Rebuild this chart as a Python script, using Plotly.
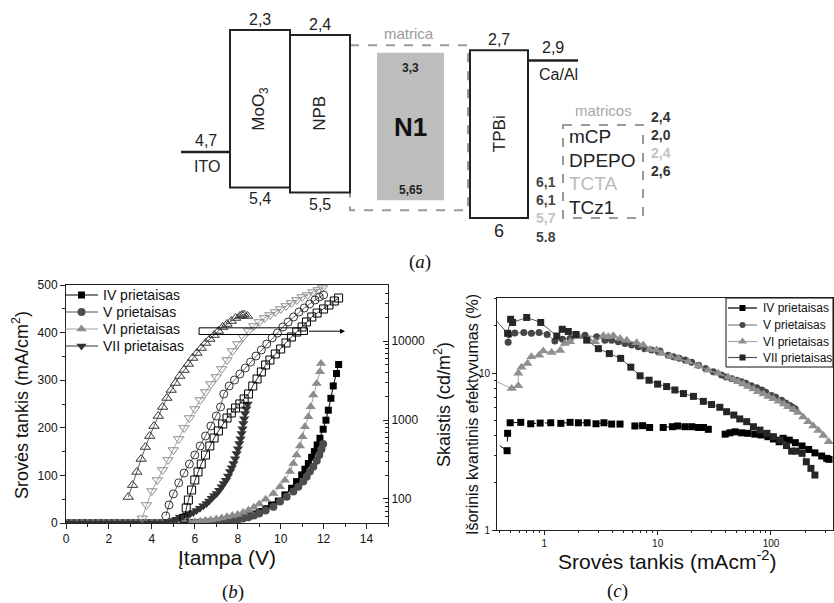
import plotly.graph_objects as go

W, H = 834, 603
FONT = "Liberation Sans, Arial, Helvetica, sans-serif"

# ---------------- panel (a): energy levels (eV) ----------------
A_LAYERS = ["MoO<sub>3</sub>", "NPB", "TPBi"]
A_LUMO = [2.3, 2.4, 2.7]
A_HOMO = [5.4, 5.5, 6.0]
A_LUMO_TXT = ["2,3", "2,4", "2,7"]
A_HOMO_TXT = ["5,4", "5,5", "6"]
ITO_LEVEL = 4.7
CAAL_LEVEL = 2.9
N1_LUMO_TXT, N1_HOMO = "3,3", 5.65
N1_DRAWN_TOP = 2.75
MATRICA_BOX = (2.6, 5.85)
MATRICOS_BOX = (4.17, 6.0)
HOST_NAMES = ["mCP", "DPEPO", "TCTA", "TCz1"]
HOST_LUMO_TXT = ["2,4", "2,0", "2,4", "2,6"]
HOST_HOMO_TXT = ["6,1", "6,1", "5,7", "5.8"]
HOST_LIGHT = [False, False, True, False]

# ---------------- panel (b): J-V (left) and L-V (right) ----------------
BASE_V = [0.0, 0.25, 0.5, 0.75, 1.0, 1.25, 1.5, 1.75, 2.0, 2.25, 2.5, 2.75,
          3.0, 3.25, 3.5, 3.75, 4.0, 4.25, 4.5]
BASE_J = [0, 0, 0, 0, 0, 0, 0, 0, 0, 0, 0, 0, 0, 0, 0, 0, 0, 0, 0]

IV_V = [4.75, 5.0, 5.25, 5.5, 5.75, 6.0, 6.25, 6.5, 6.75, 7.0, 7.25, 7.5, 7.75, 8.0,
        8.25, 8.5, 8.75, 9.0, 9.3, 9.58, 9.89, 10.2, 10.51, 10.74, 10.98, 11.13, 11.29,
        11.44, 11.57, 11.7, 11.83, 11.98, 12.11, 12.22, 12.34, 12.45, 12.6, 12.7]
IV_J = [0, 0, 0.2, 0.3, 0.5, 0.7, 1.0, 1.5, 2.2, 3, 4, 5, 7, 9, 12, 15, 19, 24, 30, 38,
        46, 59, 73, 87, 101, 113, 125, 138, 150, 164, 178, 197, 216, 237, 262, 288, 314, 333]

V_V = [4.75, 5.0, 5.25, 5.5, 5.75, 6.0, 6.25, 6.5, 6.75, 7.0, 7.25, 7.5, 7.75, 8.0, 8.25,
       8.5, 8.75, 9.0, 9.3, 9.66, 9.97, 10.28, 10.59, 10.82, 11.05, 11.21, 11.36, 11.52,
       11.68, 11.8, 11.9, 11.98]
V_J = [0, 0, 0, 0.2, 0.2, 0.3, 0.5, 1.0, 1.5, 2, 3, 4, 5.5, 7, 9.5, 12, 16, 20, 26, 34,
       45, 55, 66, 76, 87, 97, 108, 118, 131, 143, 155, 166]

VI_V = [4.75, 5.0, 5.25, 5.5, 5.75, 6.0, 6.25, 6.5, 6.75, 7.0, 7.25, 7.5, 7.75, 8.0, 8.25,
        8.5, 8.75, 9.0, 9.3, 9.66, 9.97, 10.2, 10.43, 10.59, 10.74, 10.9, 11.02, 11.13,
        11.29, 11.4, 11.52, 11.68, 11.83, 11.88]
VI_J = [0.3, 0.5, 0.8, 1.2, 1.7, 2.5, 3.5, 5, 6.5, 8.5, 10.5, 13, 15.5, 18, 22, 27, 33, 40,
        50, 62, 76, 90, 108, 125, 143, 162, 181, 202, 223, 244, 269, 293, 318, 335]

VII_V = [4.75, 5.0, 5.15, 5.31, 5.47, 5.62, 5.78, 5.93, 6.08, 6.24, 6.4, 6.55, 6.67, 6.79,
         6.9, 7.02, 7.14, 7.25, 7.35, 7.45, 7.55, 7.64, 7.72, 7.8, 7.88, 7.95, 8.01, 8.07,
         8.13, 8.18, 8.22, 8.26, 8.3, 8.34, 8.4, 8.46]
VII_J = [2, 5, 8, 12, 14, 17, 19, 22, 26, 31, 36, 41, 46, 52, 57, 62, 69, 76, 83, 90, 99,
         108, 116, 125, 135, 146, 156, 167, 177, 188, 198, 209, 219, 230, 240, 250]

# luminance (cd/m2), open symbols
LUM_UP_V = [2.9, 3.1, 3.3, 3.5, 3.7, 3.9, 4.1, 4.3, 4.5, 4.7, 4.9, 5.1, 5.3, 5.5, 5.7, 5.9,
            6.1, 6.3, 6.5, 6.7, 6.9, 7.1, 7.3, 7.5, 7.7, 7.9, 8.1, 8.2, 8.3, 8.45]
LUM_UP_L = [106, 150, 220, 321, 455, 627, 839, 1124, 1462, 1898, 2398, 2940, 3605, 4296,
            5118, 6098, 7047, 8150, 9437, 10600, 11900, 13390, 15040, 16420, 17920, 19560,
            20720, 21330, 21600, 20720]
LUM_DN_V = [3.55, 3.75, 4.0, 4.25, 4.5, 4.75, 5.0, 5.25, 5.5, 5.75, 6.0, 6.25, 6.5, 6.75,
            7.0, 7.25, 7.5, 7.75, 8.0, 8.25, 8.5, 8.75, 9.0, 9.25, 9.5, 9.75, 10.0, 10.25,
            10.5, 10.75, 11.0, 11.25, 11.5, 11.75, 11.95]
LUM_DN_L = [57, 84, 126, 174, 233, 312, 417, 575, 792, 1060, 1377, 1790, 2261, 2855, 3500,
            4424, 5745, 7467, 9155, 11240, 13390, 15490, 17410, 19560, 21330, 23280, 25410,
            27740, 30280, 33050, 36070, 38210, 41700, 44220, 46880]
LUM_CI_V = [4.65, 4.8, 5.0, 5.25, 5.5, 5.75, 6.0, 6.25, 6.5, 6.75, 7.0, 7.2, 7.35, 7.6, 7.85,
            8.1, 8.35, 8.6, 8.85, 9.1, 9.35, 9.6, 9.85, 10.1, 10.35, 10.6, 10.85, 11.1,
            11.35, 11.6, 11.8, 12.0]
LUM_CI_L = [61, 84, 116, 160, 213, 277, 360, 469, 627, 839, 1124, 1462, 2134, 2692, 3208,
            3822, 4550, 5420, 6457, 7690, 9155, 10920, 12620, 15040, 17410, 20140, 23280,
            26170, 29400, 33050, 36070, 38210]
LUM_SQ_V = [5.5, 5.6, 5.7, 5.85, 6.0, 6.15, 6.3, 6.5, 6.7, 6.9, 7.1, 7.3, 7.5, 7.7, 7.9, 8.1,
            8.3, 8.5, 8.7, 8.9, 9.1, 9.3, 9.5, 9.75, 10.0, 10.25, 10.5, 10.75, 11.0, 11.2,
            11.45, 11.7, 12.0, 12.25, 12.5, 12.7]
LUM_SQ_L = [57, 77, 97, 130, 174, 220, 277, 360, 469, 592, 726, 890, 1060, 1227, 1419, 1595,
            1845, 2134, 2692, 3305, 4055, 4970, 5745, 6845, 7920, 9437, 11240, 13000, 15040,
            17410, 20140, 22590, 25410, 28570, 32090, 35010]
LUM_TICKS = [100, 1000, 10000]
ARROW_BOX_V = (6.2, 11.25)
ARROW_BOX_J = (396, 410)
ARROW_END_V = 13.0

# ---------------- panel (c): EQE vs current density ----------------
IVC_J = [0.3, 0.47, 0.475, 0.5, 0.62, 0.76, 0.92, 1.14, 1.4, 1.69, 2.0, 2.39, 2.86, 3.36,
         3.93, 4.66, None, 6.3, 7.37, 8.5, None, 11.2, 13.5, 15.0, 17.4, 20.0, 22.9, 25.4,
         28.0, None, 39.4, 43.4, 48.2, 55.0, 62.5, 72.0, 82.0, 94.0, 105.0, 118.0, 128.0,
         145.0, 164.0, 188.0, 215.0, 244.0, 280.0, 310.0, 325.0]
IVC_E = [4.0, 3.2, 4.13, 4.82, 4.85, 4.75, 4.8, 4.82, 4.78, 4.85, 4.82, 4.82, 4.75, 4.82,
         4.73, 4.73, None, 4.6, 4.62, 4.5, None, 4.5, 4.55, 4.6, 4.55, 4.55, 4.5, 4.5, 4.38,
         None, 4.08, 4.16, 4.22, 4.16, 4.13, 4.08, 4.03, 3.93, 3.8, 3.65, 3.84, 3.74, 3.6,
         3.43, 3.26, 3.1, 2.96, 2.86, 2.82]
VC_J = [0.48, 0.49, 0.55, 0.66, 0.77, 0.90, 1.06, 1.24, 1.45, 1.69, 1.93, 2.29, 2.9, 3.43,
        3.93, 4.5, 5.15, 5.9, 6.75, 7.7, 8.85, 10.1, 10.5, 12.4, 13.8, 15.5, 17.5, 20.0,
        23.0, 26.5, 31.0, 36.6, 40.0, 45.0, 50.0, 55.0, 60.0, 67.0, 75.0, 83.0, 90.0,
        101.0, 110.0, 124.0, 135.0, 147.0, 155.0, 164.0]
VC_E = [15.7, 17.6, 18.0, 18.1, 17.9, 18.1, 17.6, 16.0, 16.4, 16.6, 17.6, 17.4, 17.0, 16.2,
        16.2, 15.8, 15.4, 15.1, 14.7, 14.3, 14.0, 13.7, 13.8, 13.0, 12.7, 12.4, 12.1, 11.7,
        11.2, 10.7, 10.2, 9.7, 9.45, 9.2, 9.0, 8.8, 8.6, 8.3, 8.05, 7.8, 7.55, 7.2, 7.0,
        6.7, 6.45, 6.2, 6.05, 5.9]
VIC_J = [0.3, 0.516, 0.59, 0.59, 0.63, 0.71, 0.77, 0.90, 0.98, 1.16, 1.38, 1.52, 1.69, 2.0,
         2.45, 2.8, 3.32, 3.67, 4.06, 4.66, 5.34, 6.53, 7.45, 8.53, 9.79, 10.8, 13.0, 15.2,
         18.7, 22.9, 28.0, 34.2, 42.0, 47.0, 51.5, 57.0, 63.0, 70.0, 77.0, 86.0, 95.0,
         105.0, 117.0, 130.0, 142.0, 158.0, 174.0, 192.0, 213.0, 236.0, 262.0, 290.0, 323.0]
VIC_E = [9.5, 7.98, 8.3, 9.96, 10.9, 11.5, 12.7, 13.0, 13.8, 13.5, 13.9, 15.4, 15.8, 17.0,
         16.4, 15.8, 17.3, 17.0, 17.3, 16.6, 16.2, 15.6, 15.1, 14.1, 14.0, 13.3, 12.8, 12.4,
         11.8, 11.1, 10.4, 9.96, 9.4, 9.1, 8.8, 8.5, 8.2, 7.9, 7.6, 7.35, 7.1, 6.85, 6.6,
         6.35, 6.1, 5.85, 5.6, 5.25, 4.9, 4.6, 4.3, 4.0, 3.65]
VIIC_J = [0.3, 0.475, 0.505, 0.526, 0.70, 0.93, 1.29, 1.44, 1.63, 1.9, 2.37, 3.0, 3.75,
          4.72, 5.8, 7.0, 8.4, 10.0, 12.0, 14.2, 16.9, 20.7, 25.3, 29.9, 35.4, 40.6, 47.0,
          53.0, 61.0, 70.0, 80.0, 92.0, 105.0, 120.0, 137.0, 152.0, 166.0, 188.0, 205.0,
          225.0, 244.0]
VIIC_E = [26.0, 17.9, 22.0, 21.0, 22.6, 21.0, 17.2, 19.0, 18.4, 17.6, 16.2, 14.3, 13.3,
          12.4, 10.9, 9.6, 9.0, 8.5, 8.2, 7.8, 7.4, 7.1, 6.6, 6.3, 6.05, 5.67, 5.4, 5.1,
          4.9, 4.55, 4.33, 4.13, 3.93, 3.74, 3.45, 3.18, 3.18, 3.08, 2.72, 2.47, 2.24]

SERIES_NAMES = ["IV prietaisas", "V prietaisas", "VI prietaisas", "VII prietaisas"]


def px(x):
    return x / W


def py(y):
    return 1 - y / H


fig = go.Figure()

# ---------- panel (b) traces ----------
b_specs = [
    (SERIES_NAMES[0], BASE_V + IV_V, BASE_J + IV_J, "square", "#000000", "#000000", 7),
    (SERIES_NAMES[1], BASE_V + V_V, BASE_J + V_J, "circle", "#4d4d4d", "#555555", 8),
    (SERIES_NAMES[2], BASE_V + VI_V, BASE_J + VI_J, "triangle-up", "#8c8c8c", "#a0a0a0", 9),
    (SERIES_NAMES[3], BASE_V + VII_V, BASE_J + VII_J, "triangle-down", "#333333", "#333333", 9),
]
for name, xv, yv, sym, mcol, lcol, size in b_specs:
    fig.add_trace(go.Scatter(
        x=xv, y=yv, name=name, mode="lines+markers", xaxis="x", yaxis="y",
        line=dict(color=lcol, width=1), showlegend=False,
        marker=dict(symbol=sym, size=size, color=mcol, line=dict(width=0)),
        hoverinfo="skip"))

lum_specs = [
    (LUM_UP_V, LUM_UP_L, "triangle-up-open", "#333333", 9),
    (LUM_DN_V, LUM_DN_L, "triangle-down-open", "#8c8c8c", 9),
    (LUM_CI_V, LUM_CI_L, "circle-open", "#333333", 8),
    (LUM_SQ_V, LUM_SQ_L, "square-open", "#000000", 8),
]
for xv, yv, sym, col, size in lum_specs:
    fig.add_trace(go.Scatter(
        x=xv, y=yv, mode="lines+markers", xaxis="x", yaxis="y2", showlegend=False,
        line=dict(color=col, width=0.8),
        marker=dict(symbol=sym, size=size, color=col, line=dict(width=1, color=col)),
        hoverinfo="skip"))

# ---------- panel (c) traces ----------
c_specs = [
    (SERIES_NAMES[0], IVC_J, IVC_E, "square", "#000000", "#000000", "dash", 7),
    (SERIES_NAMES[1], VC_J, VC_E, "circle", "#474747", "#808080", "solid", 7),
    (SERIES_NAMES[2], VIC_J, VIC_E, "triangle-up", "#8f8f8f", "#a8a8a8", "solid", 9),
    (SERIES_NAMES[3], VIIC_J, VIIC_E, "square", "#262626", "#555555", "solid", 7),
]
for name, xv, yv, sym, mcol, lcol, dash, size in c_specs:
    fig.add_trace(go.Scatter(
        x=xv, y=yv, name=name, mode="lines+markers", xaxis="x2", yaxis="y3",
        connectgaps=False, line=dict(color=lcol, width=1, dash=dash), showlegend=False,
        marker=dict(symbol=sym, size=size, color=mcol, line=dict(width=0)),
        hoverinfo="skip"))

# ---------- panel (a) ----------
X_ITO = (181, 230)
X_BOX = [(230, 290), (290, 350), (470, 528)]
X_MATRICA = (350, 468)
X_N1 = (377, 444)
X_CAAL = (528, 578)
X_MATRICOS = (563, 643)

fig.add_trace(go.Scatter(x=list(X_ITO), y=[ITO_LEVEL, ITO_LEVEL], mode="lines",
                         xaxis="x3", yaxis="y4", showlegend=False, hoverinfo="skip",
                         line=dict(color="#222222", width=2.5)))
fig.add_trace(go.Scatter(x=list(X_CAAL), y=[CAAL_LEVEL, CAAL_LEVEL], mode="lines",
                         xaxis="x3", yaxis="y4", showlegend=False, hoverinfo="skip",
                         line=dict(color="#222222", width=2.5)))

shapes = []
shapes.append(dict(type="rect", xref="x3", yref="y4", x0=X_MATRICA[0], x1=X_MATRICA[1],
                   y0=MATRICA_BOX[0], y1=MATRICA_BOX[1],
                   line=dict(color="#9a9a9a", width=2, dash="dash"), layer="below"))
shapes.append(dict(type="rect", xref="x3", yref="y4", x0=X_N1[0], x1=X_N1[1],
                   y0=N1_DRAWN_TOP, y1=N1_HOMO, fillcolor="#bdbdbd",
                   line=dict(width=0), layer="below"))
for (x0, x1), lu, ho in zip(X_BOX, A_LUMO, A_HOMO):
    shapes.append(dict(type="rect", xref="x3", yref="y4", x0=x0, x1=x1, y0=lu, y1=ho,
                       line=dict(color="#222222", width=2)))
shapes.append(dict(type="rect", xref="x3", yref="y4", x0=X_MATRICOS[0], x1=X_MATRICOS[1],
                   y0=MATRICOS_BOX[0], y1=MATRICOS_BOX[1],
                   line=dict(color="#9a9a9a", width=2, dash="dash")))

# panel (b) arrow box
shapes.append(dict(type="rect", xref="x", yref="y", x0=ARROW_BOX_V[0], x1=ARROW_BOX_V[1],
                   y0=ARROW_BOX_J[0], y1=ARROW_BOX_J[1],
                   line=dict(color="#000000", width=1)))

ann = []


def text(x, y, s, size=16, color="#222222", xref="paper", yref="paper", **kw):
    d = dict(x=x, y=y, text=s, xref=xref, yref=yref, showarrow=False,
             xanchor="center", yanchor="middle",
             font=dict(family=FONT, size=size, color=color))
    d.update(kw)
    ann.append(d)


# energy labels
for (x0, x1), lu, ho, lt, ht, nm in zip(X_BOX, A_LUMO, A_HOMO, A_LUMO_TXT, A_HOMO_TXT, A_LAYERS):
    xc = (x0 + x1) / 2
    text(xc, lu, lt, 16, xref="x3", yref="y4", yanchor="bottom", yshift=0)
    text(xc, ho, ht, 18 if ht == "6" else 16, xref="x3", yref="y4", yanchor="top", yshift=-1)
    text(xc, (lu + ho) / 2, nm, 17, xref="x3", yref="y4", textangle=-90)
text(206, ITO_LEVEL, "4,7", 16, xref="x3", yref="y4", yanchor="bottom", yshift=1)
text(207, ITO_LEVEL, "ITO", 16, xref="x3", yref="y4", yanchor="top", yshift=-4)
text(553, CAAL_LEVEL, "2,9", 16, xref="x3", yref="y4", yanchor="bottom", yshift=2)
text(558, CAAL_LEVEL, "Ca/Al", 16, xref="x3", yref="y4", yanchor="top", yshift=-4)
text((X_MATRICA[0] + X_MATRICA[1]) / 2, MATRICA_BOX[0], "matrica", 15, "#9a9a9a",
     xref="x3", yref="y4", yanchor="bottom", yshift=1)
xn = (X_N1[0] + X_N1[1]) / 2
text(xn, N1_DRAWN_TOP, "<b>" + N1_LUMO_TXT + "</b>", 12, xref="x3", yref="y4",
     yanchor="top", yshift=-6)
text(xn, (N1_DRAWN_TOP + N1_HOMO) / 2, "<b>N1</b>", 26, "#111111", xref="x3", yref="y4")
text(xn, N1_HOMO, "<b>5,65</b>", 12, xref="x3", yref="y4", yanchor="bottom", yshift=1)

text(px(603), py(110), "matricos", 15, "#a8a8a8")
host_y = [137, 160, 183, 207]
for nm, yy, light in zip(HOST_NAMES, host_y, HOST_LIGHT):
    text(px(567), py(yy), nm, 19, "#bbbbbb" if light else "#222222", xanchor="left")
lumo_y = [117, 135, 153, 171]
for t, yy, light in zip(HOST_LUMO_TXT, lumo_y, HOST_LIGHT):
    text(px(661), py(yy), "<b>" + t + "</b>", 14, "#c4c4c4" if light else "#333333")
homo_y = [182, 200, 218, 237]
for t, yy, light in zip(HOST_HOMO_TXT, homo_y, HOST_LIGHT):
    text(px(546), py(yy), "<b>" + t + "</b>", 14, "#c4c4c4" if light else "#444444")

# axis titles
text(px(20), py(405), "Srovės tankis (mA/cm<sup>2</sup>)", 18, "#111111", textangle=-90)
text(px(227), py(557), "Įtampa (V)", 21, "#111111")
text(px(442), py(405), "Skaistis (cd/m<sup>2</sup>)", 18, "#111111", textangle=-90)
text(px(472), py(415), "Išorinis kvantinis efektyvumas (%)", 16, "#111111", textangle=-90)
text(px(667), py(560), "Srovės tankis (mAcm<sup>-2</sup>)", 21, "#111111")

# captions
for cx, cy, lab in [(420, 262, "a"), (233, 592, "b"), (617, 591, "c")]:
    ann.append(dict(x=px(cx), y=py(cy), xref="paper", yref="paper", showarrow=False,
                    xanchor="center", yanchor="middle", text="(<i>" + lab + "</i>)",
                    font=dict(family="Liberation Serif, Times New Roman, serif", size=19,
                              color="#111111")))

# arrow toward right axis
ymid = (ARROW_BOX_J[0] + ARROW_BOX_J[1]) / 2
ann.append(dict(x=ARROW_END_V, y=ymid, xref="x", yref="y", ax=ARROW_BOX_V[1], ay=ymid,
                axref="x", ayref="y", showarrow=True, arrowhead=2, arrowsize=1,
                arrowwidth=1, arrowcolor="#000000", text=""))

# ---------- hand-placed legends (pixel layout axes x4/y5) ----------
LEG_B = dict(x0=65, x1=98, xt=101, ys=[295, 312, 329, 346], fsize=14)
LEG_C = dict(x0=728, x1=757, xt=761, ys=[308, 325, 341.5, 357.5], fsize=12)
leg_b_style = [("square", "#000000", "#000000", 7), ("circle", "#4d4d4d", "#555555", 8),
               ("triangle-up", "#8c8c8c", "#a0a0a0", 9), ("triangle-down", "#333333", "#333333", 9)]
leg_c_style = [("square", "#000000", "#000000", 6), ("circle", "#474747", "#808080", 6),
               ("triangle-up", "#8f8f8f", "#a8a8a8", 8), ("square", "#262626", "#555555", 6)]
for leg, styles in [(LEG_B, leg_b_style), (LEG_C, leg_c_style)]:
    for name, yy, (sym, mcol, lcol, size) in zip(SERIES_NAMES, leg["ys"], styles):
        fig.add_trace(go.Scatter(x=[leg["x0"], leg["x1"]], y=[yy, yy], mode="lines",
                                 xaxis="x4", yaxis="y5", showlegend=False, hoverinfo="skip",
                                 line=dict(color=lcol, width=1.2)))
        fig.add_trace(go.Scatter(x=[(leg["x0"] + leg["x1"]) / 2], y=[yy], mode="markers",
                                 xaxis="x4", yaxis="y5", showlegend=False, hoverinfo="skip",
                                 marker=dict(symbol=sym, size=size, color=mcol,
                                             line=dict(width=0))))
        text(px(leg["xt"]), py(yy), name, leg["fsize"], "#111111", xanchor="left")
shapes.append(dict(type="rect", xref="paper", yref="paper", x0=px(726), x1=px(833),
                   y0=py(367), y1=py(298), line=dict(color="#111111", width=1),
                   fillcolor="rgba(255,255,255,0)"))

axis_common = dict(showgrid=False, zeroline=False, showline=True, linecolor="#222222",
                   linewidth=1, tickcolor="#222222", tickwidth=1, automargin=False,
                   tickfont=dict(family=FONT, size=12, color="#111111"))
small_tick = dict(axis_common)
small_tick["tickfont"] = dict(family=FONT, size=10, color="#111111")

fig.update_layout(
    width=W, height=H, margin=dict(l=0, r=0, t=0, b=0, autoexpand=False),
    paper_bgcolor="white", plot_bgcolor="rgba(0,0,0,0)",
    font=dict(family=FONT, size=12, color="#111111"),
    shapes=shapes, annotations=ann, showlegend=False,
    xaxis=dict(domain=[px(66), px(388)], range=[0, 15], anchor="y", mirror=True,
               ticks="outside", ticklen=5, dtick=2, tick0=0,
               minor=dict(dtick=1, tick0=0, ticks="outside", ticklen=3, tickcolor="#222222"),
               **axis_common),
    yaxis=dict(domain=[py(523), py(285)], range=[0, 500], anchor="x",
               ticks="outside", ticklen=5, dtick=100, tick0=0,
               minor=dict(dtick=50, tick0=0, ticks="outside", ticklen=3, tickcolor="#222222"),
               **axis_common),
    yaxis2=dict(overlaying="y", side="right", anchor="x", type="log",
                range=[1.696, 4.709], tickmode="array", tickvals=LUM_TICKS,
                ticktext=[str(v) for v in LUM_TICKS],
                ticks="inside", ticklen=5,
                minor=dict(dtick="D1", ticks="inside", ticklen=3, tickcolor="#222222"),
                **axis_common),
    xaxis2=dict(domain=[px(497), px(833)], anchor="y3", type="log",
                range=[-0.417, 2.547], dtick=1, exponentformat="none", mirror=True,
                ticks="outside", ticklen=4,
                minor=dict(dtick="D1", ticks="outside", ticklen=2, tickcolor="#222222"),
                **small_tick),
    yaxis3=dict(domain=[py(530), py(298)], anchor="x2", type="log",
                range=[0, 1.478], dtick=1, exponentformat="none", mirror=True,
                ticks="outside", ticklen=4,
                minor=dict(dtick="D1", ticks="outside", ticklen=2, tickcolor="#222222"),
                **small_tick),
    xaxis3=dict(domain=[0, 1], range=[0, W], anchor="y4", visible=False, fixedrange=True),
    yaxis4=dict(domain=[py(250), 1], range=[6.6307, 1.7094], anchor="x3", visible=False,
                fixedrange=True),
    xaxis4=dict(domain=[0, 1], range=[0, W], anchor="y5", visible=False, fixedrange=True),
    yaxis5=dict(domain=[0, 1], range=[H, 0], anchor="x4", visible=False, fixedrange=True),
)

fig.write_html("out.html")
